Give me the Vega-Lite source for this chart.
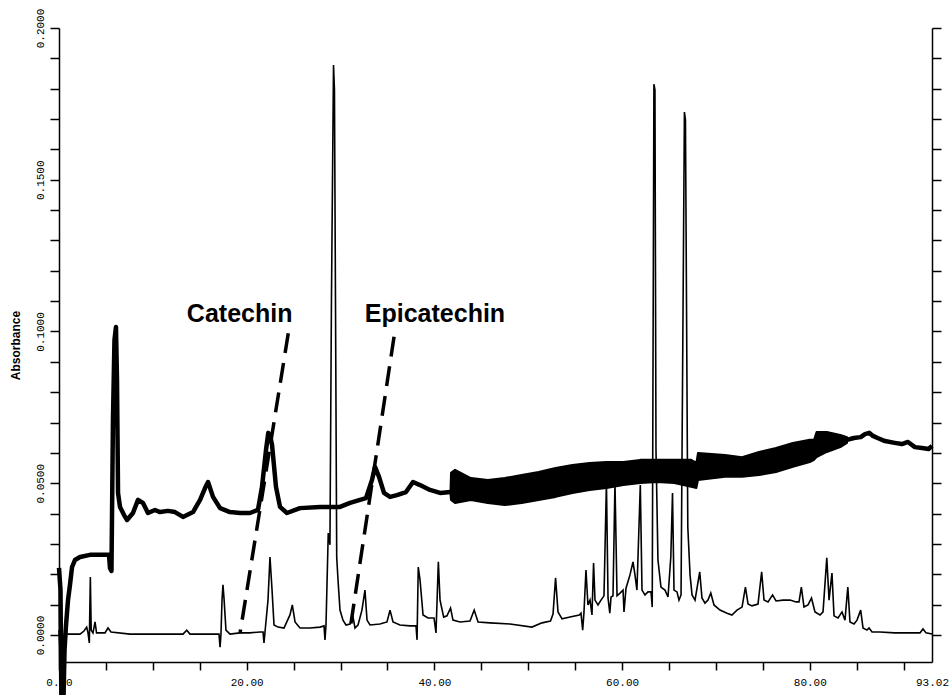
{
  "$schema": "https://vega.github.io/schema/vega-lite/v6.json",
  "width": 873,
  "height": 634,
  "autosize": {"type": "none"},
  "padding": {"left": 59, "top": 28, "right": 17, "bottom": 33},
  "background": "white",
  "config": {
    "view": {"stroke": null},
    "axis": {"grid": false, "domainColor": "black", "tickColor": "black", "labelColor": "black", "titleColor": "black"}
  },
  "datasets": {
    "upper": [
      {"t": 0.00, "v": 0.0221}, {"t": 0.16, "v": 0.0148}, {"t": 0.27, "v": -0.0280}, {"t": 0.43, "v": -0.0280},
      {"t": 0.59, "v": -0.0049}, {"t": 0.75, "v": 0.0033}, {"t": 0.96, "v": 0.0115}, {"t": 1.17, "v": 0.0165},
      {"t": 1.39, "v": 0.0224}, {"t": 1.70, "v": 0.0247}, {"t": 2.24, "v": 0.0257}, {"t": 3.30, "v": 0.0264},
      {"t": 4.37, "v": 0.0264}, {"t": 5.33, "v": 0.0264}, {"t": 5.43, "v": 0.0221}, {"t": 5.59, "v": 0.0211},
      {"t": 5.75, "v": 0.0708}, {"t": 5.91, "v": 0.0972}, {"t": 6.07, "v": 0.1015}, {"t": 6.18, "v": 0.0840},
      {"t": 6.29, "v": 0.0468}, {"t": 6.50, "v": 0.0422}, {"t": 6.93, "v": 0.0395}, {"t": 7.25, "v": 0.0379},
      {"t": 7.88, "v": 0.0402}, {"t": 8.42, "v": 0.0445}, {"t": 8.95, "v": 0.0435}, {"t": 9.48, "v": 0.0402},
      {"t": 10.23, "v": 0.0412}, {"t": 10.76, "v": 0.0405}, {"t": 11.61, "v": 0.0409}, {"t": 12.36, "v": 0.0405},
      {"t": 13.21, "v": 0.0389}, {"t": 14.28, "v": 0.0405}, {"t": 15.03, "v": 0.0445}, {"t": 15.56, "v": 0.0484},
      {"t": 15.88, "v": 0.0504}, {"t": 16.41, "v": 0.0455}, {"t": 17.16, "v": 0.0418}, {"t": 18.22, "v": 0.0405},
      {"t": 19.29, "v": 0.0402}, {"t": 20.35, "v": 0.0402}, {"t": 21.20, "v": 0.0412}, {"t": 21.63, "v": 0.0488},
      {"t": 22.06, "v": 0.0610}, {"t": 22.30, "v": 0.0666}, {"t": 22.48, "v": 0.0659}, {"t": 22.70, "v": 0.0626},
      {"t": 23.12, "v": 0.0488}, {"t": 23.55, "v": 0.0422}, {"t": 24.29, "v": 0.0402}, {"t": 25.68, "v": 0.0418},
      {"t": 27.81, "v": 0.0422}, {"t": 29.94, "v": 0.0422}, {"t": 31.01, "v": 0.0435}, {"t": 32.07, "v": 0.0445},
      {"t": 32.71, "v": 0.0451}, {"t": 33.35, "v": 0.0511}, {"t": 33.67, "v": 0.0554}, {"t": 34.10, "v": 0.0521},
      {"t": 34.63, "v": 0.0468}, {"t": 35.27, "v": 0.0455}, {"t": 36.01, "v": 0.0461}, {"t": 36.97, "v": 0.0471},
      {"t": 37.72, "v": 0.0504}, {"t": 38.47, "v": 0.0494}, {"t": 39.53, "v": 0.0478}, {"t": 40.60, "v": 0.0468},
      {"t": 41.72, "v": 0.0471}
    ],
    "upperEnd": [
      {"t": 83.96, "v": 0.0643}, {"t": 84.70, "v": 0.0649}, {"t": 85.42, "v": 0.0652}, {"t": 85.88, "v": 0.0662},
      {"t": 86.33, "v": 0.0666}, {"t": 86.73, "v": 0.0656}, {"t": 87.22, "v": 0.0649}, {"t": 88.01, "v": 0.0639},
      {"t": 89.04, "v": 0.0633}, {"t": 89.82, "v": 0.0629}, {"t": 90.46, "v": 0.0636}, {"t": 91.20, "v": 0.0619},
      {"t": 91.96, "v": 0.0616}, {"t": 92.65, "v": 0.0613}, {"t": 93.02, "v": 0.0623}
    ],
    "band": [
      {"t": 41.72, "hi": 0.0480, "lo": 0.0462}, {"t": 41.77, "hi": 0.0534, "lo": 0.0445},
      {"t": 42.20, "hi": 0.0544, "lo": 0.0435}, {"t": 43.88, "hi": 0.0517, "lo": 0.0445},
      {"t": 45.69, "hi": 0.0511, "lo": 0.0435}, {"t": 47.49, "hi": 0.0517, "lo": 0.0428},
      {"t": 49.30, "hi": 0.0527, "lo": 0.0435}, {"t": 51.10, "hi": 0.0537, "lo": 0.0445},
      {"t": 52.91, "hi": 0.0550, "lo": 0.0455}, {"t": 54.71, "hi": 0.0560, "lo": 0.0468},
      {"t": 56.53, "hi": 0.0567, "lo": 0.0478}, {"t": 58.33, "hi": 0.0570, "lo": 0.0484},
      {"t": 60.14, "hi": 0.0570, "lo": 0.0494}, {"t": 61.94, "hi": 0.0577, "lo": 0.0501},
      {"t": 63.75, "hi": 0.0577, "lo": 0.0504}, {"t": 65.55, "hi": 0.0577, "lo": 0.0501},
      {"t": 67.36, "hi": 0.0577, "lo": 0.0488}, {"t": 67.91, "hi": 0.0567, "lo": 0.0484},
      {"t": 68.09, "hi": 0.0600, "lo": 0.0511}, {"t": 70.96, "hi": 0.0593, "lo": 0.0521},
      {"t": 72.78, "hi": 0.0586, "lo": 0.0521}, {"t": 74.59, "hi": 0.0603, "lo": 0.0527},
      {"t": 76.40, "hi": 0.0616, "lo": 0.0537}, {"t": 78.20, "hi": 0.0633, "lo": 0.0554},
      {"t": 80.00, "hi": 0.0643, "lo": 0.0570}, {"t": 80.45, "hi": 0.0643, "lo": 0.0577},
      {"t": 80.72, "hi": 0.0669, "lo": 0.0586}, {"t": 81.81, "hi": 0.0669, "lo": 0.0603},
      {"t": 83.25, "hi": 0.0659, "lo": 0.0619}, {"t": 83.96, "hi": 0.0652, "lo": 0.0633}
    ],
    "lower": [
      {"t": 0.00, "v": 0.0016}, {"t": 0.16, "v": -0.0082}, {"t": 0.27, "v": -0.0280}, {"t": 0.37, "v": -0.0214},
      {"t": 0.48, "v": -0.0003}, {"t": 0.75, "v": 0.0003}, {"t": 1.70, "v": 0.0003}, {"t": 2.24, "v": 0.0003},
      {"t": 2.66, "v": 0.0013}, {"t": 2.95, "v": 0.0026}, {"t": 3.09, "v": 0.0007}, {"t": 3.23, "v": -0.0026},
      {"t": 3.34, "v": 0.0191}, {"t": 3.43, "v": 0.0016}, {"t": 3.62, "v": 0.0007}, {"t": 3.84, "v": 0.0043},
      {"t": 4.00, "v": 0.0007}, {"t": 4.90, "v": 0.0007}, {"t": 5.22, "v": 0.0023}, {"t": 5.54, "v": 0.0010},
      {"t": 7.57, "v": 0.0003}, {"t": 10.76, "v": 0.0003}, {"t": 13.21, "v": 0.0003}, {"t": 13.61, "v": 0.0016},
      {"t": 13.96, "v": 0.0003}, {"t": 16.73, "v": 0.0003}, {"t": 17.05, "v": 0.0003}, {"t": 17.16, "v": -0.0040},
      {"t": 17.26, "v": 0.0003}, {"t": 17.37, "v": 0.0115}, {"t": 17.47, "v": 0.0165}, {"t": 17.58, "v": 0.0122},
      {"t": 17.79, "v": 0.0016}, {"t": 18.22, "v": 0.0003}, {"t": 19.29, "v": 0.0007}, {"t": 20.35, "v": 0.0007},
      {"t": 21.42, "v": 0.0010}, {"t": 21.74, "v": 0.0010}, {"t": 21.84, "v": -0.0026}, {"t": 21.95, "v": 0.0010},
      {"t": 22.27, "v": 0.0115}, {"t": 22.48, "v": 0.0257}, {"t": 22.70, "v": 0.0148}, {"t": 22.91, "v": 0.0033},
      {"t": 23.34, "v": 0.0026}, {"t": 23.97, "v": 0.0023}, {"t": 24.61, "v": 0.0066}, {"t": 24.86, "v": 0.0099},
      {"t": 25.15, "v": 0.0043}, {"t": 25.68, "v": 0.0023}, {"t": 26.74, "v": 0.0023}, {"t": 27.81, "v": 0.0026},
      {"t": 28.24, "v": 0.0030}, {"t": 28.34, "v": -0.0016}, {"t": 28.45, "v": 0.0033}, {"t": 28.69, "v": 0.0336},
      {"t": 28.87, "v": 0.0297}, {"t": 29.03, "v": 0.1104}, {"t": 29.25, "v": 0.1878}, {"t": 29.35, "v": 0.1796},
      {"t": 29.46, "v": 0.1104}, {"t": 29.59, "v": 0.0257}, {"t": 29.73, "v": 0.0181}, {"t": 29.94, "v": 0.0082},
      {"t": 30.26, "v": 0.0049}, {"t": 30.58, "v": 0.0033}, {"t": 31.01, "v": 0.0036}, {"t": 31.33, "v": 0.0059},
      {"t": 31.54, "v": 0.0023}, {"t": 31.86, "v": 0.0033}, {"t": 32.28, "v": 0.0082}, {"t": 32.60, "v": 0.0148},
      {"t": 32.82, "v": 0.0049}, {"t": 33.14, "v": 0.0033}, {"t": 34.20, "v": 0.0036}, {"t": 34.95, "v": 0.0043},
      {"t": 35.27, "v": 0.0082}, {"t": 35.59, "v": 0.0043}, {"t": 36.33, "v": 0.0033}, {"t": 37.40, "v": 0.0030},
      {"t": 38.04, "v": 0.0030}, {"t": 38.15, "v": -0.0016}, {"t": 38.28, "v": 0.0224}, {"t": 38.47, "v": 0.0181},
      {"t": 38.79, "v": 0.0066}, {"t": 39.32, "v": 0.0056}, {"t": 39.96, "v": 0.0056}, {"t": 40.17, "v": 0.0007},
      {"t": 40.42, "v": 0.0241}, {"t": 40.60, "v": 0.0115}, {"t": 40.99, "v": 0.0059}, {"t": 41.34, "v": 0.0063},
      {"t": 41.72, "v": 0.0089}, {"t": 41.98, "v": 0.0049}, {"t": 42.73, "v": 0.0043}, {"t": 43.79, "v": 0.0046},
      {"t": 44.24, "v": 0.0082}, {"t": 44.65, "v": 0.0043}, {"t": 45.92, "v": 0.0040}, {"t": 48.06, "v": 0.0036},
      {"t": 50.39, "v": 0.0026}, {"t": 51.47, "v": 0.0040}, {"t": 52.37, "v": 0.0046}, {"t": 52.64, "v": 0.0069},
      {"t": 52.91, "v": 0.0188}, {"t": 53.17, "v": 0.0076}, {"t": 53.60, "v": 0.0053}, {"t": 54.45, "v": 0.0059},
      {"t": 55.44, "v": 0.0066}, {"t": 55.62, "v": 0.0072}, {"t": 55.80, "v": 0.0016}, {"t": 55.94, "v": 0.0076},
      {"t": 56.15, "v": 0.0214}, {"t": 56.36, "v": 0.0099}, {"t": 56.58, "v": 0.0115}, {"t": 56.79, "v": 0.0066},
      {"t": 56.96, "v": 0.0237}, {"t": 57.11, "v": 0.0115}, {"t": 57.43, "v": 0.0099}, {"t": 57.75, "v": 0.0115},
      {"t": 58.07, "v": 0.0129}, {"t": 58.33, "v": 0.0501}, {"t": 58.50, "v": 0.0122}, {"t": 58.69, "v": 0.0072},
      {"t": 58.82, "v": 0.0125}, {"t": 59.03, "v": 0.0129}, {"t": 59.24, "v": 0.0501}, {"t": 59.46, "v": 0.0129},
      {"t": 59.78, "v": 0.0138}, {"t": 60.10, "v": 0.0148}, {"t": 60.20, "v": 0.0076}, {"t": 60.42, "v": 0.0155},
      {"t": 60.84, "v": 0.0198}, {"t": 61.16, "v": 0.0241}, {"t": 61.37, "v": 0.0198}, {"t": 61.58, "v": 0.0148},
      {"t": 61.94, "v": 0.0494}, {"t": 62.12, "v": 0.0148}, {"t": 62.44, "v": 0.0132}, {"t": 62.76, "v": 0.0142},
      {"t": 63.08, "v": 0.0142}, {"t": 63.21, "v": 0.0092}, {"t": 63.39, "v": 0.1815}, {"t": 63.50, "v": 0.1796},
      {"t": 63.61, "v": 0.0610}, {"t": 63.82, "v": 0.0247}, {"t": 64.14, "v": 0.0158}, {"t": 64.57, "v": 0.0148},
      {"t": 64.89, "v": 0.0125}, {"t": 65.19, "v": 0.0257}, {"t": 65.37, "v": 0.0468}, {"t": 65.53, "v": 0.0148},
      {"t": 65.85, "v": 0.0142}, {"t": 66.06, "v": 0.0115}, {"t": 66.28, "v": 0.0132}, {"t": 66.64, "v": 0.1723},
      {"t": 66.75, "v": 0.1697}, {"t": 66.86, "v": 0.1104}, {"t": 67.00, "v": 0.0356}, {"t": 67.24, "v": 0.0198},
      {"t": 67.45, "v": 0.0132}, {"t": 67.77, "v": 0.0115}, {"t": 68.27, "v": 0.0208}, {"t": 68.51, "v": 0.0122},
      {"t": 68.83, "v": 0.0105}, {"t": 69.15, "v": 0.0115}, {"t": 69.45, "v": 0.0138}, {"t": 69.79, "v": 0.0099},
      {"t": 70.43, "v": 0.0082}, {"t": 71.18, "v": 0.0072}, {"t": 71.70, "v": 0.0066}, {"t": 72.24, "v": 0.0082},
      {"t": 72.78, "v": 0.0092}, {"t": 73.14, "v": 0.0158}, {"t": 73.42, "v": 0.0102}, {"t": 73.84, "v": 0.0096},
      {"t": 74.48, "v": 0.0102}, {"t": 74.87, "v": 0.0208}, {"t": 75.12, "v": 0.0115}, {"t": 75.55, "v": 0.0109},
      {"t": 76.03, "v": 0.0132}, {"t": 76.40, "v": 0.0112}, {"t": 77.14, "v": 0.0115}, {"t": 77.89, "v": 0.0115},
      {"t": 78.53, "v": 0.0109}, {"t": 78.85, "v": 0.0109}, {"t": 79.10, "v": 0.0158}, {"t": 79.38, "v": 0.0092},
      {"t": 79.81, "v": 0.0099}, {"t": 80.18, "v": 0.0122}, {"t": 80.55, "v": 0.0076}, {"t": 81.09, "v": 0.0066},
      {"t": 81.41, "v": 0.0076}, {"t": 81.81, "v": 0.0254}, {"t": 82.05, "v": 0.0115}, {"t": 82.36, "v": 0.0204},
      {"t": 82.58, "v": 0.0063}, {"t": 83.01, "v": 0.0056}, {"t": 83.43, "v": 0.0076}, {"t": 83.75, "v": 0.0049},
      {"t": 84.05, "v": 0.0158}, {"t": 84.28, "v": 0.0043}, {"t": 84.71, "v": 0.0036}, {"t": 85.03, "v": 0.0049},
      {"t": 85.42, "v": 0.0082}, {"t": 85.67, "v": 0.0023}, {"t": 86.09, "v": 0.0016}, {"t": 86.31, "v": 0.0023},
      {"t": 86.63, "v": 0.0010}, {"t": 87.48, "v": 0.0010}, {"t": 89.04, "v": 0.0007}, {"t": 90.68, "v": 0.0007},
      {"t": 91.74, "v": 0.0007}, {"t": 92.06, "v": 0.0020}, {"t": 92.38, "v": 0.0007}, {"t": 93.02, "v": 0.0003}
    ],
    "notes": [
      {"label": "Catechin", "tx": 19.25, "ty": 0.1032, "t1": 24.43, "v1": 0.0994, "t2": 19.29, "v2": 0.0006},
      {"label": "Epicatechin", "tx": 40.06, "ty": 0.1032, "t1": 35.70, "v1": 0.0983, "t2": 31.00, "v2": 0.0016}
    ]
  },
  "resolve": {"axis": {"x": "independent", "y": "independent"}},
  "layer": [
    {
      "data": {"name": "band"},
      "mark": {"type": "area", "color": "black", "stroke": "black", "strokeWidth": 2, "strokeJoin": "round", "clip": false},
      "encoding": {
        "x": {
          "field": "t", "type": "quantitative",
          "scale": {"domain": [0, 93.02], "nice": false, "zero": false},
          "axis": {
            "orient": "bottom", "title": null,
            "values": [0, 5, 10, 15, 20, 25, 30, 35, 40, 45, 50, 55, 60, 65, 70, 75, 80, 85, 90, 93.02],
            "labelExpr": "datum.value > 93 ? '93.02' : (datum.value % 20 == 0 ? format(datum.value, '.2f') : '')",
            "tickOpacity": {"condition": {"test": "datum.value > 93", "value": 0}, "value": 1},
            "tickSize": 8, "tickWidth": 1.5, "domainWidth": 1.5,
            "labelPadding": 6, "labelFont": "Liberation Mono", "labelFontSize": 11,
            "labelFlush": false, "labelOverlap": false
          }
        },
        "y": {
          "field": "hi", "type": "quantitative",
          "scale": {"domain": [-0.0089, 0.2], "nice": false, "zero": false},
          "axis": {
            "orient": "left", "title": "Absorbance",
            "values": [0, 0.01, 0.02, 0.03, 0.04, 0.05, 0.06, 0.07, 0.08, 0.09, 0.1, 0.11, 0.12, 0.13, 0.14, 0.15, 0.16, 0.17, 0.18, 0.19, 0.2],
            "labelExpr": "abs(datum.value * 20 - round(datum.value * 20)) < 0.001 ? format(datum.value, '.4f') : ''",
            "labelAngle": 270, "labelAlign": "center", "labelBaseline": "bottom",
            "labelPadding": 5, "labelFont": "Liberation Mono", "labelFontSize": 11,
            "labelFlush": false, "labelOverlap": false,
            "tickSize": 9, "tickWidth": 1.5, "domainWidth": 1.5,
            "titleFont": "Liberation Sans", "titleFontWeight": "bold", "titleFontSize": 12, "titlePadding": 12
          }
        },
        "y2": {"field": "lo"}
      }
    },
    {
      "data": {"name": "upper"},
      "mark": {"type": "line", "color": "black", "strokeWidth": 4.5, "strokeJoin": "round", "clip": false},
      "encoding": {
        "x": {"field": "t", "type": "quantitative", "scale": {"domain": [0, 93.02], "nice": false, "zero": false}, "axis": null},
        "y": {
          "field": "v", "type": "quantitative",
          "scale": {"domain": [-0.0089, 0.2], "nice": false, "zero": false},
          "axis": {
            "orient": "right", "title": null, "labels": false,
            "values": [0, 0.01, 0.02, 0.03, 0.04, 0.05, 0.06, 0.07, 0.08, 0.09, 0.1, 0.11, 0.12, 0.13, 0.14, 0.15, 0.16, 0.17, 0.18, 0.19, 0.2],
            "tickSize": 9, "tickWidth": 1.5, "domainWidth": 1.5
          }
        }
      }
    },
    {
      "data": {"name": "upperEnd"},
      "mark": {"type": "line", "color": "black", "strokeWidth": 4.5, "strokeJoin": "round", "clip": false},
      "encoding": {
        "x": {"field": "t", "type": "quantitative", "scale": {"domain": [0, 93.02], "nice": false, "zero": false}, "axis": null},
        "y": {"field": "v", "type": "quantitative", "scale": {"domain": [-0.0089, 0.2], "nice": false, "zero": false}, "axis": null}
      }
    },
    {
      "data": {"name": "lower"},
      "mark": {"type": "line", "color": "black", "strokeWidth": 1.6, "clip": false},
      "encoding": {
        "x": {"field": "t", "type": "quantitative", "scale": {"domain": [0, 93.02], "nice": false, "zero": false}, "axis": null},
        "y": {"field": "v", "type": "quantitative", "scale": {"domain": [-0.0089, 0.2], "nice": false, "zero": false}, "axis": null}
      }
    },
    {
      "data": {"name": "notes"},
      "mark": {"type": "rule", "color": "black", "strokeWidth": 3.5, "strokeDash": [20, 10], "clip": false},
      "encoding": {
        "x": {"field": "t1", "type": "quantitative", "scale": {"domain": [0, 93.02], "nice": false, "zero": false}, "axis": null},
        "x2": {"field": "t2"},
        "y": {"field": "v1", "type": "quantitative", "scale": {"domain": [-0.0089, 0.2], "nice": false, "zero": false}, "axis": null},
        "y2": {"field": "v2"}
      }
    },
    {
      "data": {"name": "notes"},
      "mark": {"type": "text", "color": "black", "font": "Liberation Sans", "fontWeight": "bold", "fontSize": 25, "align": "center", "baseline": "alphabetic"},
      "encoding": {
        "x": {"field": "tx", "type": "quantitative", "scale": {"domain": [0, 93.02], "nice": false, "zero": false}, "axis": null},
        "y": {"field": "ty", "type": "quantitative", "scale": {"domain": [-0.0089, 0.2], "nice": false, "zero": false}, "axis": null},
        "text": {"field": "label"}
      }
    }
  ]
}
